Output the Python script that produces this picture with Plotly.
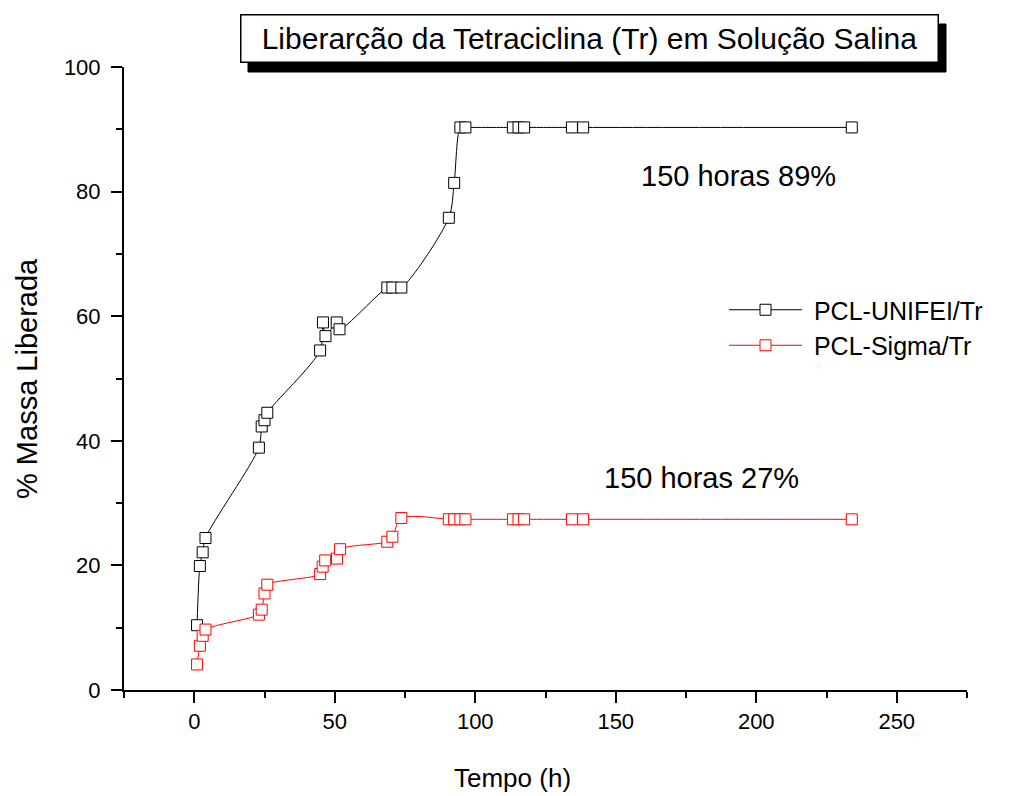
import plotly.graph_objects as go

# Release time (hours) and cumulative released mass (%) for each membrane
tempo_unifei = [1, 2, 3, 4, 23, 24, 25, 26, 44.8, 45.8, 46.7, 50.7, 51.7,
                68.7, 70.5, 73.7, 90.6, 92.5, 94.7, 96.5, 113.4, 115.4, 117.4,
                134.4, 138.4, 234]
massa_unifei = [10.4, 19.9, 22.1, 24.4, 38.9, 42.3, 43.3, 44.5, 54.5, 59.0, 56.8,
                59.0, 57.9, 64.6, 64.6, 64.6, 75.8, 81.4, 90.3, 90.3, 90.3, 90.3,
                90.3, 90.3, 90.3, 90.3]

tempo_sigma = [1, 2, 3, 4, 23, 24, 25, 26, 44.8, 45.7, 46.6, 50.8, 51.9,
               68.7, 70.5, 73.7, 90.6, 92.5, 94.7, 96.5, 113.4, 115.4, 117.4,
               134.4, 138.4, 234]
massa_sigma = [4.1, 7.1, 8.7, 9.7, 12.1, 12.9, 15.5, 16.9, 18.6, 19.8, 20.8,
               21.1, 22.6, 23.8, 24.6, 27.6, 27.4, 27.4, 27.4, 27.4, 27.4, 27.4,
               27.4, 27.4, 27.4, 27.4]

x_ticks = [0, 50, 100, 150, 200, 250]
y_ticks = [0, 20, 40, 60, 80, 100]

FONT = "Liberation Sans, Arial, sans-serif"
W, H = 1019, 796
M_L, M_R, M_T, M_B = 124, 52, 67, 106


def px_to_paper(px, py):
    """Convert page pixel position to paper coordinates of the plot area."""
    pw = W - M_L - M_R
    ph = H - M_T - M_B
    return (px - M_L) / pw, (H - M_B - py) / ph


fig = go.Figure()

fig.add_trace(go.Scatter(
    x=tempo_unifei, y=massa_unifei, name="\u00a0PCL-UNIFEI/Tr",
    mode="lines+markers",
    line=dict(color="black", width=1, shape="spline", smoothing=0.8),
    marker=dict(symbol="square", size=11, color="white",
                line=dict(color="black", width=1)),
))
fig.add_trace(go.Scatter(
    x=tempo_sigma, y=massa_sigma, name="\u00a0PCL-Sigma/Tr",
    mode="lines+markers",
    line=dict(color="red", width=1, shape="spline", smoothing=0.8),
    marker=dict(symbol="square", size=11, color="white",
                line=dict(color="red", width=1)),
))

# Drop shadow behind the title box
sx0, sy0 = px_to_paper(248, 72)
sx1, sy1 = px_to_paper(946, 24)
shapes = [
    dict(type="rect", xref="paper", yref="paper", x0=sx0, y0=sy0, x1=sx1, y1=sy1,
         fillcolor="black", line=dict(color="black", width=1), layer="below"),
]

tx, ty = px_to_paper(589, 38)
xt_x, xt_y = px_to_paper(512, 778)
yt_x, yt_y = px_to_paper(27, 379)
lg_x, lg_y = px_to_paper(724, 287)

annotations = [
    dict(text="Liberarção da Tetraciclina (Tr) em Solução Salina", xref="paper",
         yref="paper", x=tx, y=ty, xanchor="center", yanchor="middle",
         showarrow=False, bgcolor="white", bordercolor="black", borderwidth=1.5,
         borderpad=0, width=696, height=46,
         font=dict(family=FONT, size=30, color="black")),
    dict(text="Tempo (h)", xref="paper", yref="paper", x=xt_x, y=xt_y,
         xanchor="center", yanchor="middle",
         showarrow=False, font=dict(family=FONT, size=26, color="black")),
    dict(text="% Massa Liberada", xref="paper", yref="paper", x=yt_x, y=yt_y,
         xanchor="center", yanchor="middle",
         textangle=-90, showarrow=False,
         font=dict(family=FONT, size=29, color="black")),
    dict(text="150 horas 89%", x=193.6, y=82.5, xref="x", yref="y",
         showarrow=False, font=dict(family=FONT, size=29, color="black")),
    dict(text="150 horas 27%", x=180.4, y=34.0, xref="x", yref="y",
         showarrow=False, font=dict(family=FONT, size=29, color="black")),
]

fig.update_layout(
    width=W, height=H,
    margin=dict(l=M_L, r=M_R, t=M_T, b=M_B),
    paper_bgcolor="white", plot_bgcolor="white",
    font=dict(family=FONT, color="black"),
    shapes=shapes,
    annotations=annotations,
    legend=dict(x=lg_x, y=lg_y, xanchor="left", yanchor="top",
                font=dict(family=FONT, size=25, color="black"),
                bgcolor="rgba(0,0,0,0)", itemwidth=73, tracegroupgap=0),
    xaxis=dict(range=[-25, 275], tickmode="array", tickvals=x_ticks,
               ticktext=[str(v) for v in x_ticks],
               showgrid=False, zeroline=False, showline=True, linecolor="black",
               linewidth=2, ticks="outside", ticklen=11, tickwidth=1.5,
               tickcolor="black",
               tickfont=dict(family=FONT, size=22, color="black"),
               minor=dict(ticks="outside", ticklen=6, tickwidth=1.5,
                          tickcolor="black", tick0=0, dtick=25)),
    yaxis=dict(range=[0, 100], tickmode="array", tickvals=y_ticks,
               ticktext=[str(v) for v in y_ticks],
               showgrid=False, zeroline=False, showline=True, linecolor="black",
               linewidth=2, ticks="outside", ticklen=11, tickwidth=1.5,
               tickcolor="black", ticklabelstandoff=6,
               tickfont=dict(family=FONT, size=22, color="black"),
               minor=dict(ticks="outside", ticklen=6, tickwidth=1.5,
                          tickcolor="black", tick0=0, dtick=10)),
)

fig.write_html("out.html")
